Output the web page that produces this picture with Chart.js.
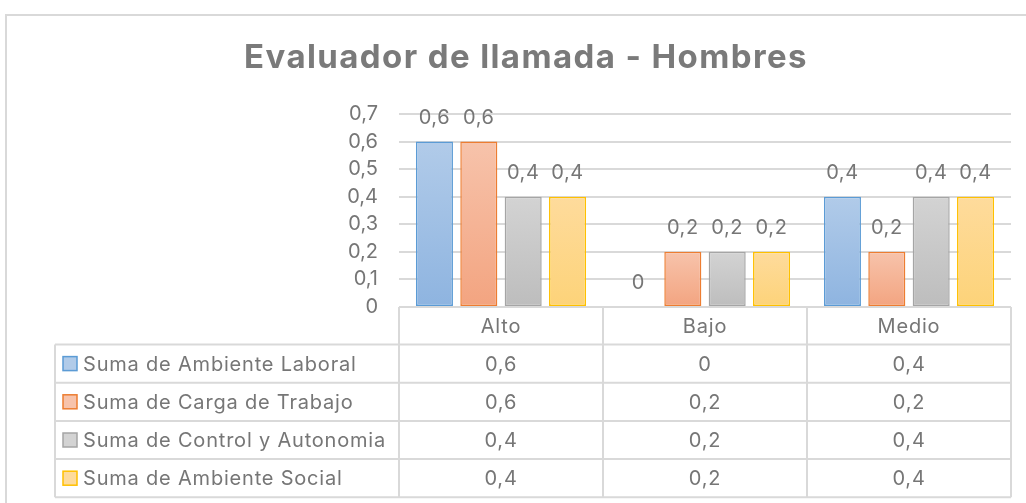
<!DOCTYPE html>
<html>
<head>
<meta charset="utf-8">
<script src="https://cdn.jsdelivr.net/npm/chart.js@4.4.1/dist/chart.umd.min.js"></script>
<style>
  html, body { margin: 0; padding: 0; background: #fff; }
  #wrap { width: 1026px; height: 503px; }
</style>
</head>
<body>
<div id="wrap"><canvas id="chart_div" width="1026" height="503"></canvas></div>
<script>
// ===========================================================================
// data

const chartTitle = 'Evaluador de llamada - Hombres';
const categories = ['Alto', 'Bajo', 'Medio'];
const seriesNames = [
  'Suma de Ambiente Laboral',
  'Suma de Carga de Trabajo',
  'Suma de Control y Autonomia',
  'Suma de Ambiente Social'
];
const ambienteLaboral  = [0.6, 0,   0.4];
const cargaTrabajo     = [0.6, 0.2, 0.2];
const controlAutonomia = [0.4, 0.2, 0.4];
const ambienteSocial   = [0.4, 0.2, 0.4];
const yMin = 0, yMax = 0.7, yStep = 0.1;

// ===========================================================================

const FONT = 'Inter, "Noto Sans", sans-serif';
const TEXT = '#767676';
const LINE = '#d9d9d9';

// border, gradient top, gradient bottom
const palette = [
  ['#5b9bd5', '#b1cbe9', '#8eb4e0'],
  ['#ed7d31', '#f7c3ab', '#f3a480'],
  ['#a5a5a5', '#d3d3d3', '#bdbdbd'],
  ['#ffc000', '#fedb9c', '#fdd379']
];

const fmt = v => v === 0 ? '0' : v.toFixed(1).replace('.', ',');

function barFill(idx) {
  return function (ctx) {
    const chart = ctx.chart;
    if (!chart.chartArea || ctx.raw === undefined) return palette[idx][2];
    const y = chart.scales.y;
    const top = y.getPixelForValue(ctx.raw);
    const bottom = y.getPixelForValue(0);
    const g = chart.ctx.createLinearGradient(0, top, 0, Math.max(bottom, top + 1));
    g.addColorStop(0, palette[idx][1]);
    g.addColorStop(1, palette[idx][2]);
    return g;
  };
}

const seriesData = [ambienteLaboral, cargaTrabajo, controlAutonomia, ambienteSocial];

// frame + title
const framePlugin = {
  id: 'frame',
  beforeDraw(chart) {
    const c = chart.ctx;
    c.save();
    c.fillStyle = '#fff';
    c.fillRect(0, 0, chart.width, chart.height);
    c.strokeStyle = LINE;
    c.lineWidth = 2;
    c.beginPath();
    c.moveTo(6, chart.height + 2);
    c.lineTo(6, 15);
    c.lineTo(chart.width + 2, 15);
    c.stroke();
    c.fillStyle = '#7a7a7a';
    c.font = 'bold 33px ' + FONT;
    c.letterSpacing = '1.4px';
    c.textAlign = 'center';
    c.textBaseline = 'middle';
    c.fillText(chartTitle, 526, 58);
    c.restore();
  }
};

// value labels above bars
const valueLabels = {
  id: 'valueLabels',
  afterDatasetsDraw(chart) {
    const c = chart.ctx;
    c.save();
    c.fillStyle = TEXT;
    c.font = '20px ' + FONT;
    c.letterSpacing = '0.6px';
    c.textAlign = 'center';
    c.textBaseline = 'middle';
    chart.data.datasets.forEach((ds, i) => {
      chart.getDatasetMeta(i).data.forEach((el, j) => {
        c.fillText(fmt(ds.data[j]), el.x, el.y - 24);
      });
    });
    c.restore();
  }
};

// data table under the plot
const dataTable = {
  id: 'dataTable',
  afterDraw(chart) {
    const c = chart.ctx;
    const area = chart.chartArea;
    const x = chart.scales.x;
    const colW = (area.right - area.left) / categories.length;
    const top = area.bottom;
    const headH = 37.5;
    const rowH = 38.2;
    const left = 55;
    const bottom = top + headH + rowH * seriesNames.length;

    c.save();
    c.strokeStyle = LINE;
    c.lineWidth = 2;
    c.beginPath();
    // header top line
    c.moveTo(area.left, top); c.lineTo(area.right, top);
    // row lines
    for (let r = 0; r <= seriesNames.length; r++) {
      const yy = top + headH + r * rowH;
      c.moveTo(left, yy); c.lineTo(area.right, yy);
    }
    // verticals
    c.moveTo(left, top + headH); c.lineTo(left, bottom);
    for (let k = 0; k <= categories.length; k++) {
      const xx = area.left + k * colW;
      c.moveTo(xx, top); c.lineTo(xx, bottom);
    }
    c.stroke();

    c.fillStyle = TEXT;
    c.font = '20px ' + FONT;
    c.letterSpacing = '0.8px';
    c.textBaseline = 'middle';
    c.textAlign = 'center';
    categories.forEach((cat, k) => {
      c.fillText(cat, x.getPixelForValue(k), top + headH / 2 + 1);
    });
    seriesNames.forEach((name, r) => {
      const cy = top + headH + r * rowH + rowH / 2;
      c.textAlign = 'center';
      c.fillStyle = TEXT;
      seriesData[r].forEach((v, k) => {
        c.fillText(fmt(v), x.getPixelForValue(k), cy + 1);
      });
      // legend key
      c.fillStyle = palette[r][1];
      c.fillRect(63, cy - 7, 14, 14);
      c.strokeStyle = palette[r][0];
      c.lineWidth = 1.5;
      c.strokeRect(63, cy - 7, 14, 14);
      c.fillStyle = TEXT;
      c.textAlign = 'left';
      c.fillText(name, 83, cy + 1);
    });
    c.restore();
  }
};

const config = {
  type: 'bar',
  data: {
    labels: categories,
    datasets: seriesNames.map((name, i) => ({
      label: name,
      data: seriesData[i],
      backgroundColor: barFill(i),
      borderColor: palette[i][0],
      borderWidth: 1.5,
      borderSkipped: false,
      categoryPercentage: 0.87,
      barPercentage: 0.835
    }))
  },
  options: {
    responsive: false,
    animation: false,
    layout: { padding: { top: 114, right: 15, bottom: 196, left: 0 } },
    plugins: {
      legend: { display: false },
      title: { display: false },
      tooltip: { enabled: false }
    },
    scales: {
      x: { display: false },
      y: {
        min: yMin,
        max: yMax,
        ticks: {
          stepSize: yStep,
          padding: 21,
          color: TEXT,
          font: { family: FONT, size: 20 },
          callback: v => fmt(Math.round(v * 10) / 10)
        },
        grid: { color: LINE, lineWidth: 2, drawTicks: false },
        border: { display: false },
        afterFit: scale => { scale.width = 399; }
      }
    }
  },
  plugins: [framePlugin, valueLabels, dataTable]
};

new Chart(document.getElementById('chart_div'), config);
</script>
</body>
</html>
